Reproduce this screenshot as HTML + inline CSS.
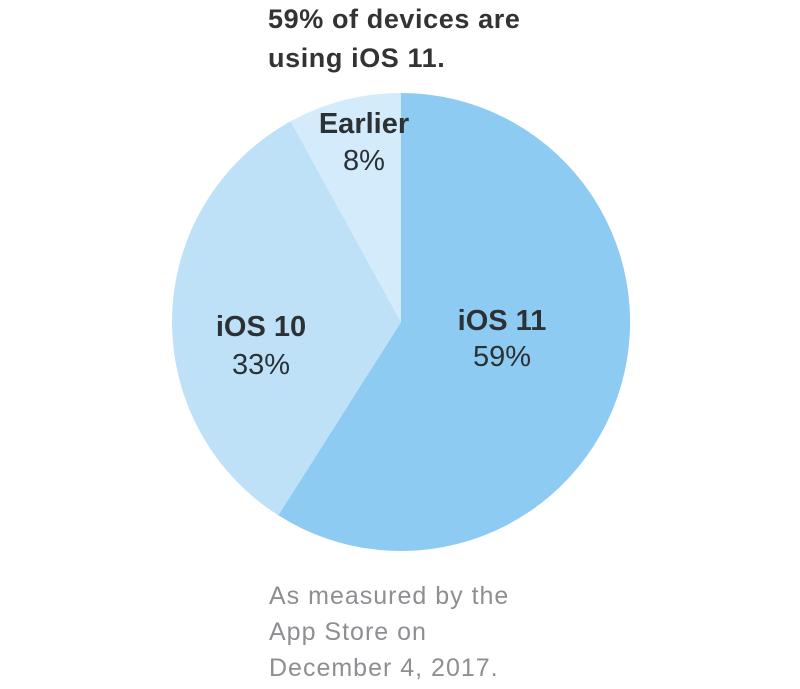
<!DOCTYPE html>
<html><head><style>
body{margin:0;background:#fff;width:800px;height:684px;overflow:hidden}
svg text{font-family:"Liberation Sans",sans-serif}
</style></head><body>
<svg width="800" height="684" viewBox="0 0 800 684">
<path d="M401,322 L401,93 A229,229 0 1 1 278.3,515.3 Z" fill="#8ecbf3"/>
<path d="M401,322 L278.3,515.3 A229,229 0 0 1 290.7,121.3 Z" fill="#bfe1f8"/>
<path d="M401,322 L290.7,121.3 A229,229 0 0 1 401,93 Z" fill="#d3ebfa"/>
<text x="268" y="28" font-size="27" font-weight="bold" fill="#333" letter-spacing="0.6">59% of devices are</text>
<text x="268" y="67" font-size="27" font-weight="bold" fill="#333" letter-spacing="0.6">using iOS 11.</text>
<g fill="#2c3136" text-anchor="middle" font-size="29">
<text x="364" y="133" font-weight="bold">Earlier</text>
<text x="364" y="170">8%</text>
<text x="261" y="336" font-weight="bold">iOS 10</text>
<text x="261" y="374">33%</text>
<text x="502" y="330" font-weight="bold">iOS 11</text>
<text x="502" y="366">59%</text>
</g>
<g fill="#8e8e93" font-size="25" letter-spacing="1">
<text x="269" y="604">As measured by the</text>
<text x="269" y="640">App Store on</text>
<text x="269" y="676">December 4, 2017.</text>
</g>
</svg>
</body></html>
